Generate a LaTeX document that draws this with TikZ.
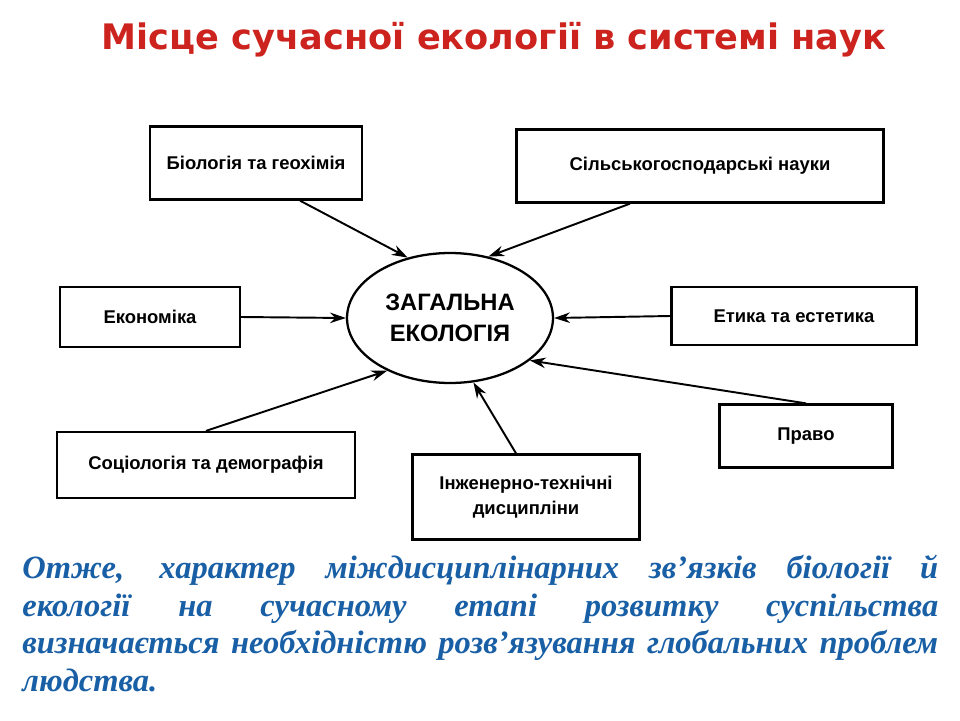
\documentclass[tikz,border=0pt]{standalone}
\usepackage{fontspec}
\setmainfont{Liberation Serif}
\setsansfont{Liberation Sans}
\newfontfamily\titlefont{DejaVu Sans}
\usetikzlibrary{shapes.geometric}
\definecolor{titlered}{RGB}{205,35,30}
\definecolor{noteblue}{RGB}{25,95,165}
\tikzset{
  box/.style={rectangle, draw=black, line width=1.3pt, font=\sffamily\bfseries\fontsize{10.5}{14}\selectfont, align=center},
  link/.style={-{Stealth[length=9pt,width=6pt]}, line width=1.1pt},
}
\usetikzlibrary{arrows.meta}
\begin{document}
\begin{tikzpicture}[x=0.02cm,y=-0.02cm]
\useasboundingbox (0,0) rectangle (960,720);
\node[font=\titlefont\bfseries\fontsize{20}{24}\selectfont, text=titlered] (title) at (494,40) {Місце сучасної екології в системі наук};

\node[ellipse, draw=black, line width=1.3pt, minimum width=4.12cm, minimum height=2.6cm, font=\sffamily\bfseries\fontsize{13.5}{18}\selectfont, align=center] (eco) at (450,318) {ЗАГАЛЬНА\\ЕКОЛОГІЯ};

\node[box, minimum width=4.24cm, minimum height=1.46cm] (bio) at (256,163) {Біологія та геохімія};
\node[box, minimum width=7.34cm, minimum height=1.46cm] (agro) at (700,166) {Сільськогосподарські науки};
\node[box, minimum width=3.6cm, minimum height=1.2cm] (econ) at (150,317) {Економіка};
\node[box, minimum width=4.9cm, minimum height=1.16cm] (ethic) at (794,316) {Етика та естетика};
\node[box, minimum width=3.46cm, minimum height=1.26cm] (law) at (806,436) {Право};
\node[box, minimum width=5.96cm, minimum height=1.32cm] (socio) at (206,465) {Соціологія та демографія};
\node[box, minimum width=4.54cm, minimum height=1.7cm] (eng) at (526,497) {Інженерно-технічні\\дисципліни};

\draw[link] (bio.south) ++(44,0) coordinate (b1) -- (eco.125);
\draw[link] (agro.south) ++(-70,0) coordinate (a1) -- (eco.58);
\draw[link] (econ.east) -- (eco.west);
\draw[link] (ethic.west) -- (eco.east);
\draw[link] (law.north) -- (eco.-28);
\draw[link] (socio.north) -- (eco.-140);
\draw[link] (eng.north) ++(-10,0) coordinate (e1) -- (eco.-70);

\node[anchor=north west, text width=18.32cm, align=justify, inner sep=0pt, text=noteblue, font=\rmfamily\bfseries\itshape\fontsize{18.5}{21.3}\selectfont] (note) at (22,555) {Отже, характер міждисциплінарних зв’язків біології й\linebreak екології на сучасному етапі розвитку суспільства\linebreak визначається необхідністю розв\symbol{39}язування глобальних проблем\linebreak людства.};
\end{tikzpicture}
\end{document}
